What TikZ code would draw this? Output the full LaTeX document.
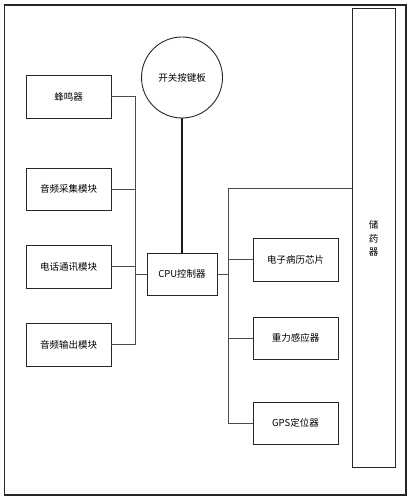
\documentclass[tikz,border=0pt]{standalone}
\usepackage{fontspec}
\newfontfamily\cjk{Noto Sans CJK SC}
\begin{document}
\begin{tikzpicture}[x=1pt,y=-1pt,
  box/.style={draw=black!85,line width=0.9pt,rectangle,inner sep=0pt,font=\cjk\fontsize{9.5}{11}\selectfont},
  conn/.style={draw=black!70,line width=0.8pt},
  thick conn/.style={draw=black!90,line width=1.8pt}]
\useasboundingbox (0,0) rectangle (411,500);
\draw[draw=black!85,line width=1.3pt] (4.5,5) rectangle (406,495);
% storage
\node[box,minimum width=43pt,minimum height=459pt,anchor=north west] (store) at (352,8) {};
\node[font=\cjk\fontsize{9.5}{13.5}\selectfont,align=center] (storetxt) at (373.5,238.5) {储\\药\\器};
% circle
\node[box,circle,minimum size=81pt] (key) at (182,77.5) {开关按键板};
% left boxes
\node[box,minimum width=85pt,minimum height=43pt] (buzz) at (68.5,96.5) {蜂鸣器};
\node[box,minimum width=85pt,minimum height=42pt] (ain) at (68.5,189) {音频采集模块};
\node[box,minimum width=85pt,minimum height=43pt] (tel) at (68.5,266.5) {电话通讯模块};
\node[box,minimum width=85pt,minimum height=43pt] (aout) at (68.5,344.5) {音频输出模块};
% cpu
\node[box,minimum width=70pt,minimum height=42pt] (cpu) at (182,274) {CPU控制器};
% right boxes
\node[box,minimum width=85pt,minimum height=43pt] (emr) at (295.5,259.5) {电子病历芯片};
\node[box,minimum width=85pt,minimum height=42pt] (grav) at (295.5,338) {重力感应器};
\node[box,minimum width=85pt,minimum height=42pt] (gps) at (295.5,423) {GPS定位器};
% bus coordinates
\coordinate (lb1) at (135,96.5);
\coordinate (lb2) at (135,344.5);
\coordinate (lbc) at (135,274);
\coordinate (rb1) at (228,188);
\coordinate (rb2) at (228,423);
\coordinate (rbc) at (228,274);
% left connections
\draw[conn] (buzz.east) -- (lb1) -- (lb2) -- (aout.east);
\draw[conn] (ain.east) -- (ain.east -| lb1);
\draw[conn] (tel.east) -- (tel.east -| lb1);
\draw[conn] (lbc) -- (cpu.west |- lbc);
% right connections
\draw[conn] (store.west |- rb1) -- (rb1) -- (rb2) -- (gps.west);
\draw[conn] (cpu.east |- rbc) -- (rbc);
\draw[conn] (emr.west) -- (emr.west -| rb1);
\draw[conn] (grav.west) -- (grav.west -| rb1);
% key to cpu
\draw[thick conn] (key.south) -- (cpu.north);
\end{tikzpicture}
\end{document}
